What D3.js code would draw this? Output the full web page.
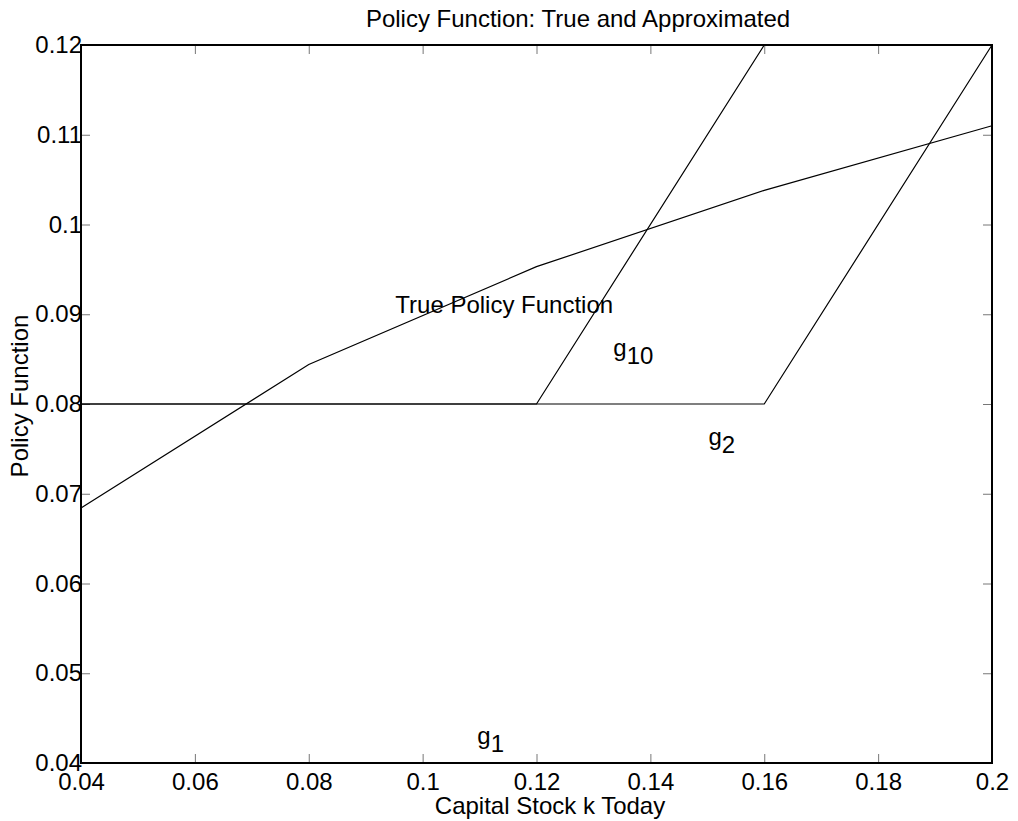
<!DOCTYPE html>
<meta charset="utf-8">
<script src="https://d3js.org/d3.v7.min.js"></script>
<style>
  body { margin: 0; background: #fff; }
  text { font-family: "Liberation Sans", Arial, Helvetica, sans-serif; fill: #000; }
</style>
<div id="chart"></div>
<script>
  // grid of capital stock values
  const kGrid = [0.04, 0.08, 0.12, 0.16, 0.2];
  // true policy function
  const truePolicy = [0.0684, 0.0844, 0.0953, 0.1038, 0.1110];
  // approximations g_n (x, y) pairs
  const g1 = [[0.04, 0.04], [0.2, 0.04]];
  const g2 = [[0.04, 0.08], [0.16, 0.08], [0.2, 0.12]];
  const g10 = [[0.04, 0.08], [0.12, 0.08], [0.16, 0.12]];

  const xTicks = [0.04, 0.06, 0.08, 0.1, 0.12, 0.14, 0.16, 0.18, 0.2];
  const yTicks = [0.04, 0.05, 0.06, 0.07, 0.08, 0.09, 0.1, 0.11, 0.12];

  // labels placed in data coordinates
  const labels = [
    {text: "True Policy Function", k: 0.0952, v: 0.0901, sub: null},
    {text: "g", k: 0.1335, v: 0.0853, sub: "10"},
    {text: "g", k: 0.1502, v: 0.0754, sub: "2"},
    {text: "g", k: 0.1096, v: 0.0421, sub: "1"}
  ];

  const W = 1018, H = 821;
  const margin = {top: 45, right: 26, bottom: 58, left: 81};
  const width = W - margin.left - margin.right,
        height = H - margin.top - margin.bottom;
  const fs = 24;

  const svg = d3.select("#chart").append("svg")
      .attr("width", W).attr("height", H);
  const g = svg.append("g")
      .attr("transform", `translate(${margin.left},${margin.top})`);

  const x = d3.scaleLinear().domain([0.04, 0.2]).range([0, width]);
  const y = d3.scaleLinear().domain([0.04, 0.12]).range([height, 0]);

  const fmt = d => String(+d.toFixed(2));
  const tickLen = 9;

  // axes with inward ticks on all four sides
  const axB = g.append("g").attr("transform", `translate(0,${height})`)
    .call(d3.axisBottom(x).tickValues(xTicks).tickSizeInner(-tickLen).tickSizeOuter(0).tickPadding(10).tickFormat(fmt));
  const axL = g.append("g")
    .call(d3.axisLeft(y).tickValues(yTicks).tickSizeInner(-tickLen).tickSizeOuter(0).tickPadding(-1).tickFormat(fmt));
  const axT = g.append("g")
    .call(d3.axisTop(x).tickValues(xTicks).tickSizeInner(-tickLen).tickSizeOuter(0).tickFormat(""));
  const axR = g.append("g").attr("transform", `translate(${width},0)`)
    .call(d3.axisRight(y).tickValues(yTicks).tickSizeInner(-tickLen).tickSizeOuter(0).tickFormat(""));

  [axB, axL, axT, axR].forEach(a => {
    a.select(".domain").remove();
    a.selectAll(".tick line").attr("stroke", "#777").attr("stroke-width", 1);
    a.selectAll(".tick text").attr("font-size", fs).attr("fill", "#000")
      .style("font-family", '"Liberation Sans", Arial, sans-serif');
  });
  axB.selectAll(".tick text").attr("dy", "0.71em");

  // frame
  g.append("rect").attr("width", width).attr("height", height)
    .attr("fill", "none").attr("stroke", "#000").attr("stroke-width", 2);

  const line = d3.line().x(d => x(d[0])).y(d => y(d[1]));
  const series = [kGrid.map((k, i) => [k, truePolicy[i]]), g1, g2, g10];
  g.selectAll("path.series").data(series).join("path")
    .attr("class", "series")
    .attr("d", line)
    .attr("fill", "none")
    .attr("stroke", "#000")
    .attr("stroke-width", 1.2);

  // in-plot labels
  labels.forEach(l => {
    const t = g.append("text")
      .attr("x", x(l.k)).attr("y", y(l.v))
      .attr("font-size", fs)
      .text(l.text);
    if (l.sub) {
      t.append("tspan").attr("dy", 8).attr("font-size", fs).text(l.sub);
    }
  });

  // title & axis labels
  svg.append("text")
    .attr("x", 578).attr("y", 27)
    .attr("text-anchor", "middle").attr("font-size", fs)
    .text("Policy Function: True and Approximated");
  svg.append("text")
    .attr("x", 550).attr("y", 814)
    .attr("text-anchor", "middle").attr("font-size", fs)
    .text("Capital Stock k Today");
  svg.append("text")
    .attr("transform", `translate(28,396) rotate(-90)`)
    .attr("text-anchor", "middle").attr("font-size", fs)
    .text("Policy Function");
</script>
